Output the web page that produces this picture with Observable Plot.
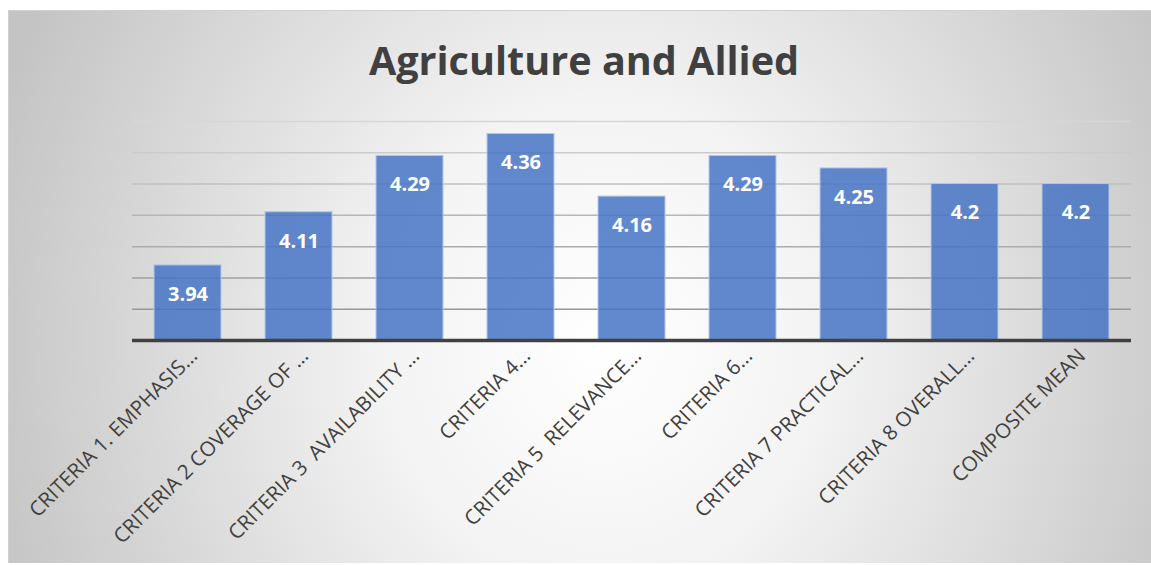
<!DOCTYPE html>
<html><head><meta charset="utf-8">
<script src="https://cdn.jsdelivr.net/npm/d3@7"></script>
<script src="https://cdn.jsdelivr.net/npm/@observablehq/plot@0.6"></script>
<style>
html,body{margin:0;padding:0;background:#fff;width:1151px;height:565px;overflow:hidden}
#chart{position:absolute;left:8px;top:10px;width:1143px;height:553px;box-sizing:border-box;
  border-top:1px solid #d0d0d0;border-left:1px solid #d0d0d0;
  background:radial-gradient(ellipse 640px 700px at 52% 60%, #ffffff 0%, #f3f3f3 35%, #c4c4c4 100%);}
#title{position:absolute;left:4px;top:28px;width:100%;text-align:center;font-family:"Open Sans";font-weight:bold;font-size:39.6px;line-height:42px;color:#404040;}
#plot{position:absolute;left:-1px;top:99px}
svg text{white-space:pre}
</style></head>
<body>
<div id="chart"><div id="title">Agriculture and Allied</div><div id="plot"></div></div>
<script>
const categories = ["CRITERIA 1. EMPHASIS...", "CRITERIA 2 COVERAGE OF ...", "CRITERIA 3  AVAILABILITY ...", "CRITERIA 4...", "CRITERIA 5  RELEVANCE...", "CRITERIA 6...", "CRITERIA 7 PRACTICAL...", "CRITERIA 8 OVERALL...", "COMPOSITE MEAN"];
const values = [3.94, 4.11, 4.29, 4.36, 4.16, 4.29, 4.25, 4.2, 4.2];
const yTicks = [3.7, 3.8, 3.9, 4.0, 4.1, 4.2, 4.3, 4.4];

const data = categories.map((c, i) => ({cat: c, value: values[i]}));
const yMin = yTicks[0], yMax = yTicks[yTicks.length - 1];
const gridColor = d3.interpolateRgb("#d6d6d6", "#8c8c8c");

const chart = Plot.plot({
  width: 1143, height: 453,
  marginLeft: 124, marginRight: 20, marginTop: 11, marginBottom: 223,
  style: {background: "transparent", overflow: "visible", fontFamily: "Open Sans", fontSize: "20.5px"},
  x: {domain: categories, paddingInner: 0.4, paddingOuter: 0.2, axis: null},
  y: {domain: [yMin, yMax], axis: null},
  color: {type: "identity"},
  marks: [
    Plot.ruleY(yTicks.slice(1), {stroke: d => gridColor((yMax - d) / (yMax - yMin)), strokeWidth: 1.5}),
    Plot.barY(data, {x: "cat", y1: yMin, y2: "value", fill: "#4472C4", fillOpacity: 0.84, stroke: "#b4c7e7", strokeWidth: 1}),
    Plot.ruleY([yMin], {stroke: "#404040", strokeWidth: 3.5}),
    Plot.text(data, {x: "cat", y: "value", text: d => String(d.value), dy: 29, fill: "white", fontWeight: "bold", fontSize: 20, fontFamily: "Open Sans"}),
    Plot.axisX({tickRotate: -45, tickSize: 0, tickPadding: 12, dx: 6, label: null, fontSize: 20.5, fill: "#404040", fontFamily: "Open Sans"})
  ]
});
document.getElementById("plot").appendChild(chart);
</script>
</body></html>
